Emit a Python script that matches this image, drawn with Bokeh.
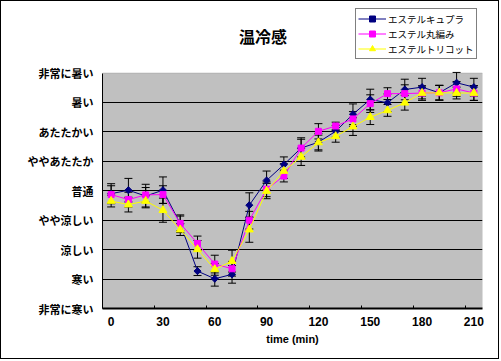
from bokeh.plotting import figure
from bokeh.models import (ColumnDataSource, Whisker, TeeHead, FixedTicker, Legend,
                          LegendItem, Label, Range1d, BoxAnnotation)
from bokeh.embed import file_html
from bokeh.resources import INLINE

# ---- data ----
times = [0, 10, 20, 30, 40, 50, 60, 70, 80, 90, 100, 110, 120, 130, 140, 150, 160, 170, 180, 190, 200, 210]
x_tick_values = [0, 30, 60, 90, 120, 150, 180, 210]
y_levels = [1, 2, 3, 4, 5, 6, 7, 8, 9]
y_labels = ["非常に寒い", "寒い", "涼しい", "やや涼しい", "普通", "ややあたたか", "あたたかい", "暑い", "非常に暑い"]

series_names = ["エステルキュプラ", "エステル丸編み", "エステルトリコット"]
cupra = [4.90, 5.02, 4.82, 5.02, 3.88, 2.27, 2.01, 2.16, 4.51, 5.35, 5.89, 6.45, 6.65, 7.02, 7.60, 8.10, 7.99, 8.44, 8.52, 8.33, 8.67, 8.52]
maruami = [4.87, 4.70, 4.86, 4.87, 3.89, 3.21, 2.51, 2.35, 4.00, 5.05, 5.50, 6.45, 7.02, 7.20, 7.44, 7.96, 8.30, 8.30, 8.32, 8.33, 8.46, 8.32]
tricot = [4.65, 4.53, 4.65, 4.34, 3.68, 3.01, 2.33, 2.61, 3.68, 4.99, 5.67, 6.15, 6.64, 6.85, 7.18, 7.50, 7.73, 7.99, 8.32, 8.33, 8.32, 8.32]
cupra_err = [0.34, 0.40, 0.40, 0.45, 0.30, 0.15, 0.25, 0.30, 0.42, 0.32, 0.26, 0.35, 0.30, 0.20, 0.35, 0.35, 0.30, 0.35, 0.30, 0.25, 0.35, 0.30]
maruami_err = [0.30, 0.25, 0.25, 0.30, 0.25, 0.25, 0.30, 0.25, 0.30, 0.25, 0.20, 0.30, 0.26, 0.13, 0.25, 0.30, 0.20, 0.30, 0.25, 0.25, 0.25, 0.25]
tricot_err = [0.20, 0.25, 0.20, 0.41, 0.20, 0.30, 0.20, 0.37, 0.43, 0.26, 0.25, 0.29, 0.25, 0.20, 0.30, 0.25, 0.20, 0.25, 0.20, 0.25, 0.20, 0.25]

title_text = "温冷感"
x_title = "time (min)"

JP = "Noto Sans CJK JP"

# The scale 1..9 occupies the lower part of the frame; the frame's top part
# (up to the canvas top) holds the title and legend.
p = figure(width=499, height=359, output_backend="svg", toolbar_location=None,
           x_range=Range1d(-5, 215), y_range=Range1d(1, 11.43),
           min_border_left=101, min_border_right=18, min_border_top=0, min_border_bottom=52)
p.styles = {"border": "1px solid black"}
p.background_fill_color = "white"
p.border_fill_color = "white"
p.outline_line_color = None

plot_area = BoxAnnotation(bottom=y_levels[0], top=y_levels[-1], fill_color="#C0C0C0", fill_alpha=1,
                          line_color="#808080", line_width=1, level="image")
p.add_layout(plot_area)

# axes
p.xaxis.ticker = FixedTicker(ticks=x_tick_values, minor_ticks=[-5, 25, 55, 85, 115, 145, 175, 205])
p.xaxis.major_tick_line_color = None
p.xaxis.major_tick_in = 0
p.xaxis.major_tick_out = 0
p.xaxis.minor_tick_line_color = "black"
p.xaxis.minor_tick_in = 3
p.xaxis.minor_tick_out = 0
p.xaxis.axis_line_color = "black"
p.xaxis.axis_line_width = 2
p.xaxis.major_label_text_font = "Liberation Sans"
p.xaxis.major_label_text_font_style = "bold"
p.xaxis.major_label_text_font_size = "12px"
p.xaxis.major_label_text_color = "black"
p.xaxis.major_label_standoff = 8
p.xaxis.axis_label = x_title
p.xaxis.axis_label_text_font = "Liberation Sans"
p.xaxis.axis_label_text_font_style = "bold"
p.xaxis.axis_label_text_font_size = "11px"
p.xaxis.axis_label_text_color = "black"
p.xaxis.axis_label_standoff = 4

p.yaxis.ticker = FixedTicker(ticks=y_levels)
p.yaxis.bounds = (y_levels[0], y_levels[-1])
p.yaxis.major_label_overrides = {lv: lab for lv, lab in zip(y_levels, y_labels)}
p.yaxis.major_tick_line_color = None
p.yaxis.major_tick_in = 0
p.yaxis.major_tick_out = 0
p.yaxis.minor_tick_line_color = None
p.yaxis.axis_line_color = "black"
p.yaxis.axis_line_width = 1
p.yaxis.major_label_text_font = JP
p.yaxis.major_label_text_font_style = "bold"
p.yaxis.major_label_text_font_size = "11px"
p.yaxis.major_label_text_color = "black"
p.yaxis.major_label_standoff = 9

p.xgrid.visible = False
p.ygrid.ticker = FixedTicker(ticks=y_levels[1:-1])
p.ygrid.grid_line_color = "black"
p.ygrid.grid_line_width = 1

specs = [
    (cupra, cupra_err, "#000080", "square", 5, 0.785398),
    (maruami, maruami_err, "#FF00FF", "square", 6, 0.0),
    (tricot, tricot_err, "#FFFF00", "triangle", 8, 0.0),
]
items = []
for name, (vals, errs, col, mk, sz, ang) in zip(series_names, specs):
    src = ColumnDataSource(dict(x=times, y=vals,
                                upper=[v + e for v, e in zip(vals, errs)],
                                lower=[v - e for v, e in zip(vals, errs)]))
    w = Whisker(source=src, base="x", upper="upper", lower="lower",
                line_color="black", line_width=1,
                upper_head=TeeHead(size=8, line_color="black", line_width=1),
                lower_head=TeeHead(size=8, line_color="black", line_width=1))
    p.add_layout(w)
    ln = p.line("x", "y", source=src, line_color=col, line_width=1)
    sc = p.scatter("x", "y", source=src, marker=mk, size=sz, angle=ang,
                   fill_color=col, line_color=col)
    items.append(LegendItem(label=name, renderers=[ln, sc]))

legend = Legend(items=items, location=(253, 249))
legend.label_text_font = JP
legend.label_text_font_size = "9.5px"
legend.label_text_color = "black"
legend.label_height = 15
legend.glyph_height = 15
legend.glyph_width = 28
legend.label_standoff = 2
legend.spacing = 0
legend.padding = 2
legend.margin = 0
legend.border_line_color = "black"
legend.border_line_width = 1
legend.background_fill_color = "white"
legend.background_fill_alpha = 1
p.add_layout(legend)

title = Label(x=87.9, y=10.26, text=title_text, text_align="center", text_baseline="middle",
              text_font=JP, text_font_style="bold", text_font_size="16px",
              text_color="black")
p.add_layout(title)

open("out.html", "w").write(file_html(p, INLINE))
